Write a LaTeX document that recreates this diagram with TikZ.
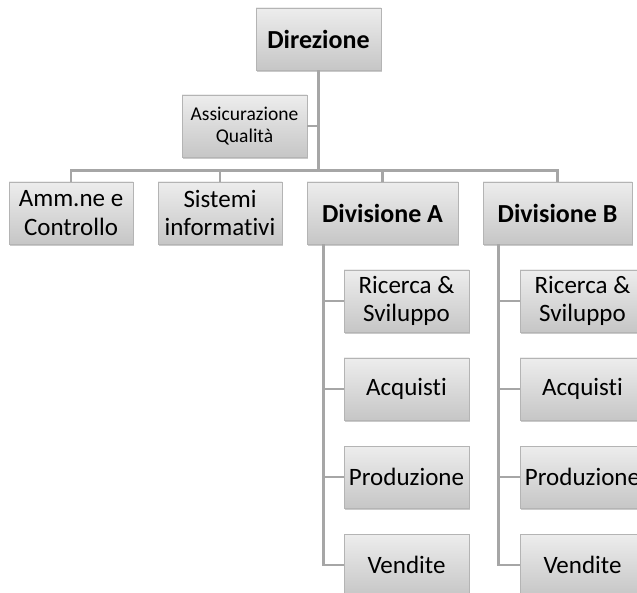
\documentclass[tikz,border=0pt]{standalone}
\usepackage{fontspec}
\setmainfont{Carlito}[Ligatures=NoCommon]
\usetikzlibrary{shadows}
\definecolor{boxtop}{HTML}{EDEDED}
\definecolor{boxbot}{HTML}{C6C6C6}
\definecolor{boxline}{HTML}{B4B4B4}
\definecolor{wire}{HTML}{A6A6A6}
\tikzset{
  unitbox/.style={rectangle, draw=boxline, line width=0.6pt,
    top color=boxtop, bottom color=boxbot,
    drop shadow={opacity=0.35, shadow xshift=1.2pt, shadow yshift=-1.8pt, fill=black!60},
    minimum width=125pt, minimum height=62pt, inner sep=1pt,
    align=center, font=\fontsize{25}{28.5}\selectfont},
  headbox/.style={unitbox, font=\fontsize{26}{30}\selectfont\bfseries},
  smallbox/.style={unitbox, font=\fontsize{19.5}{22.5}\selectfont},
  wireline/.style={draw=wire, line width=2.6pt}
}
\begin{document}
\begin{tikzpicture}[x=1pt, y=-1pt]
  \useasboundingbox (0,0) rectangle (637,593);
  % top of the chart
  \node[headbox] (dir) at (318.5,39) {Direzione};
  \node[smallbox] (aq) at (244.5,126) {Assicurazione\\Qualità};
  % staff and line units
  \node[unitbox, minimum width=124pt] (amm) at (71,213) {Amm.ne e\\Controllo};
  \node[unitbox, minimum width=124pt] (sis) at (220,213) {Sistemi\\informativi};
  \node[headbox, minimum width=151pt] (divA) at (382.5,213) {Divisione A};
  \node[headbox, minimum width=149pt] (divB) at (557.5,213) {Divisione B};
  % functions of division A
  \node[unitbox] (ra) at (406.5,301) {Ricerca \&\\Sviluppo};
  \node[unitbox] (aa) at (406.5,389) {Acquisti};
  \node[unitbox] (pa) at (406.5,477) {Produzione};
  \node[unitbox] (va) at (406.5,565) {Vendite};
  % functions of division B
  \node[unitbox] (rb) at (582.5,301) {Ricerca \&\\Sviluppo};
  \node[unitbox] (ab) at (582.5,389) {Acquisti};
  \node[unitbox] (pb) at (582.5,477) {Produzione};
  \node[unitbox] (vb) at (582.5,565) {Vendite};
  % routing helpers
  \coordinate (bar) at (0,170.5);
  \coordinate (spineA) at (323.5,0);
  \coordinate (spineB) at (498.5,0);
  % connectors
  \draw[wireline] (dir.south) -- (dir.south |- bar);
  \draw[wireline] (aq.east) -- (aq.east -| dir.south);
  \draw[wireline] (dir.south |- bar) -| (amm.north);
  \draw[wireline] (dir.south |- bar) -| (sis.north);
  \draw[wireline] (dir.south |- bar) -| (divA.north);
  \draw[wireline] (dir.south |- bar) -| (divB.north);
  \foreach \n in {ra,aa,pa,va} {
    \draw[wireline] (spineA |- divA.south) |- (\n.west);
  }
  \foreach \n in {rb,ab,pb,vb} {
    \draw[wireline] (spineB |- divB.south) |- (\n.west);
  }
\end{tikzpicture}
\end{document}
